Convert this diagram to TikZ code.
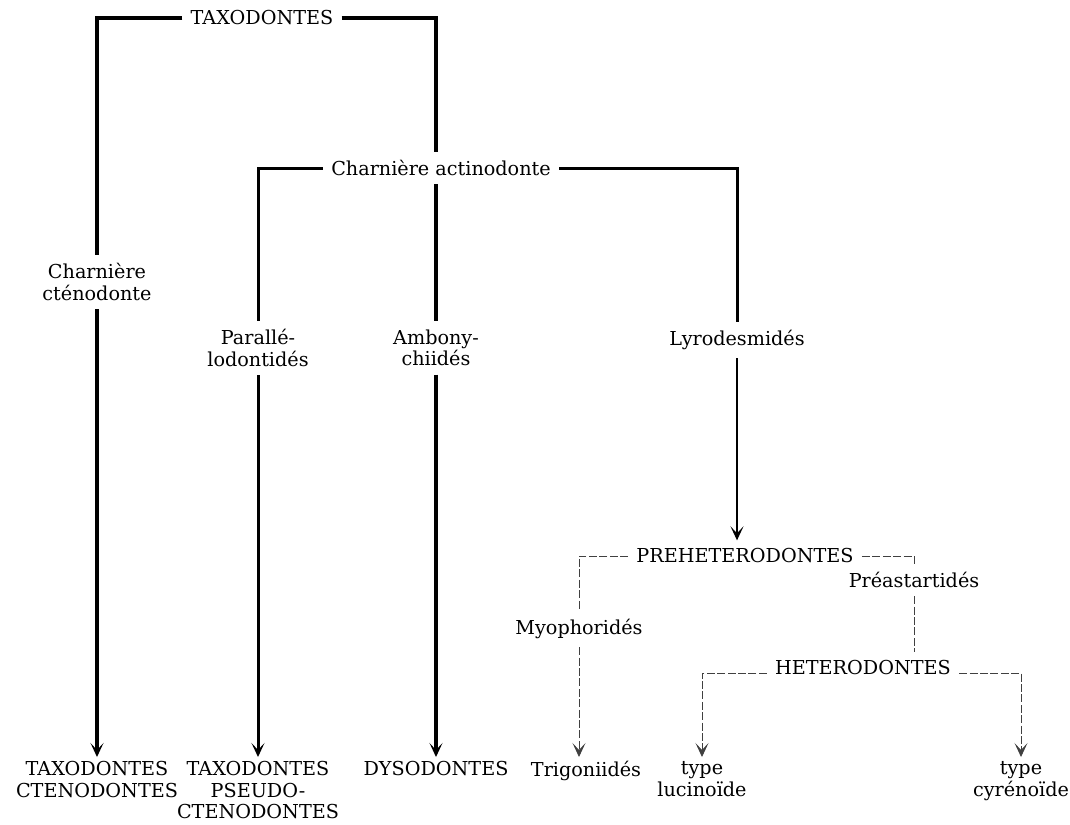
\documentclass[tikz,border=0pt]{standalone}
\usepackage{fontspec}
\setmainfont{DejaVu Serif}
\usepackage{tikz}
\usetikzlibrary{arrows.meta}
\tikzset{
  lab/.style={font=\fontsize{9.6}{10.8}\selectfont, align=center, inner sep=4pt},
  endlab/.style={lab, anchor=north, inner xsep=1pt, inner ysep=2pt},
  heavy/.style={draw=black, line width=1.9pt},
  medium/.style={draw=black, line width=1.5pt},
  light/.style={draw=black, line width=1pt},
  faintline/.style={draw=black!75, line width=0.45pt, dash pattern=on 4pt off 1.2pt},
  tip/.style={-{Stealth[length=7pt,width=6.5pt,inset=3.5pt]}},
}
\begin{document}
\begin{tikzpicture}[x=0.5pt,y=-0.5pt]
  \useasboundingbox (0,0) rectangle (1070,824);
  % heads of the branches
  \node[lab] (taxo) at (262,18) {TAXODONTES};
  \node[lab] (actino) at (441,168) {Charni\`ere actinodonte};
  \node[lab] (cteno) at (97,282) {Charni\`ere\\ct\'enodonte};
  \node[lab] (para) at (258,348) {Parall\'e-\\lodontid\'es};
  \node[lab] (ambo) at (436,348) {Ambony-\\chiid\'es};
  \node[lab] (lyro) at (737,340) {Lyrodesmid\'es};
  \node[lab] (prehet) at (745,556) {PREHETERODONTES};
  \node[lab] (myo) at (579,629) {Myophorid\'es};
  \node[lab] (preast) at (914,580) {Pr\'eastartid\'es};
  \node[lab] (hetero) at (863,668) {HETERODONTES};
  % ends
  \node[endlab] (taxocteno) at (97,757) {TAXODONTES\\CTENODONTES};
  \node[endlab] (pseudo) at (258,757) {TAXODONTES\\PSEUDO-\\CTENODONTES};
  \node[endlab] (dyso) at (436,757) {DYSODONTES};
  \node[endlab] (trigo) at (586,757) {Trigoniid\'es};
  \node[endlab] (lucin) at (702,757) {type\\lucino\"ide};
  \node[endlab] (cyren) at (1021,757) {type\\cyr\'eno\"ide};

  \draw[heavy] (taxo.west) -| (cteno.north);
  \draw[heavy,tip] (cteno.south) -- (taxocteno.north);
  \draw[heavy] (taxo.east) -| (actino.north -| ambo);
  \draw[heavy] (actino.south -| ambo) -- (ambo.north);
  \draw[heavy,tip] (ambo.south) -- (dyso.north);

  \draw[medium] (actino.west) -| (para.north);
  \draw[medium,tip] (para.south) -- (pseudo.north);
  \draw[medium] (actino.east) -| (lyro.north);
  \draw[light,tip] (lyro.south) -- (lyro.south |- prehet.north);

  \draw[faintline] (prehet.west) -| (myo.north);
  \draw[faintline,tip] (myo.south) -- (myo.south |- trigo.north);
  \draw[faintline] (prehet.east) -| (preast.north);
  \draw[faintline] (preast.south) -- (preast.south |- hetero.north);
  \draw[faintline,tip] ([yshift=-2.5pt]hetero.west) -| (lucin.north);
  \draw[faintline,tip] ([yshift=-2.5pt]hetero.east) -| (cyren.north);
\end{tikzpicture}
\end{document}
